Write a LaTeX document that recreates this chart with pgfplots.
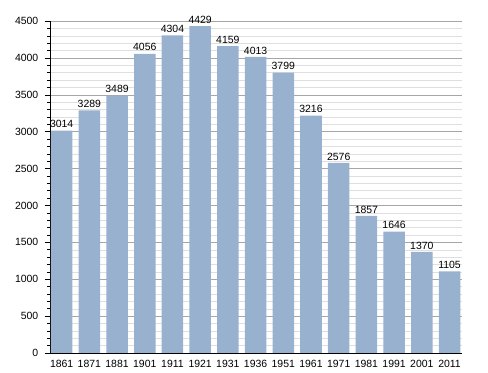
\documentclass[border=0pt]{standalone}
\usepackage{fontspec}
\setmainfont{Liberation Sans}
\usepackage{pgfplots}
\pgfplotsset{compat=1.18}
\definecolor{barblue}{HTML}{98B1CF}
\begin{document}
\fontsize{10.5}{12}\selectfont
\begin{tikzpicture}
\begin{axis}[
  scale only axis,
  width=412bp, height=332bp,
  xmin=-0.42, xmax=14.45,
  ymin=0, ymax=4500,
  ytick={0,500,...,4500},
  minor y tick num=4,
  xtick={0,...,14},
  xticklabels={1861,1871,1881,1901,1911,1921,1931,1936,1951,1961,1971,1981,1991,2001,2011},
  axis x line*=bottom,
  axis y line*=left,
  x axis line style={-, black, line width=0.9pt},
  y axis line style={-, black, line width=0.8pt},
  ymajorgrids, yminorgrids,
  major grid style={gray!70, line width=0.4pt},
  minor grid style={gray!25, line width=0.4pt},
  tick align=outside,
  major tick length=5bp,
  minor tick length=3bp,
  xtick style={draw=none},
  ytick style={black, line width=0.5pt},
  tick label style={font=\fontsize{10.5}{12}\selectfont},
  /pgf/number format/assume math mode=true,
  /pgf/number format/set thousands separator={},
  yticklabel style={xshift=-3bp},
  xticklabel style={yshift=1bp},
  nodes near coords,
  nodes near coords style={font=\fontsize{10.5}{12}\selectfont, /pgf/number format/set thousands separator={}, /pgf/number format/assume math mode=true, yshift=-1bp},
  clip=false,
]
\addplot[ybar, bar width=21.5bp, fill=barblue, draw=none] coordinates {
(0,3014) (1,3289) (2,3489) (3,4056) (4,4304) (5,4429) (6,4159) (7,4013) (8,3799) (9,3216) (10,2576) (11,1857) (12,1646) (13,1370) (14,1105)
};
\end{axis}
\path (current axis.south west) ++(-50bp,-20bp) rectangle ++(488bp,373bp);
\end{tikzpicture}
\end{document}
